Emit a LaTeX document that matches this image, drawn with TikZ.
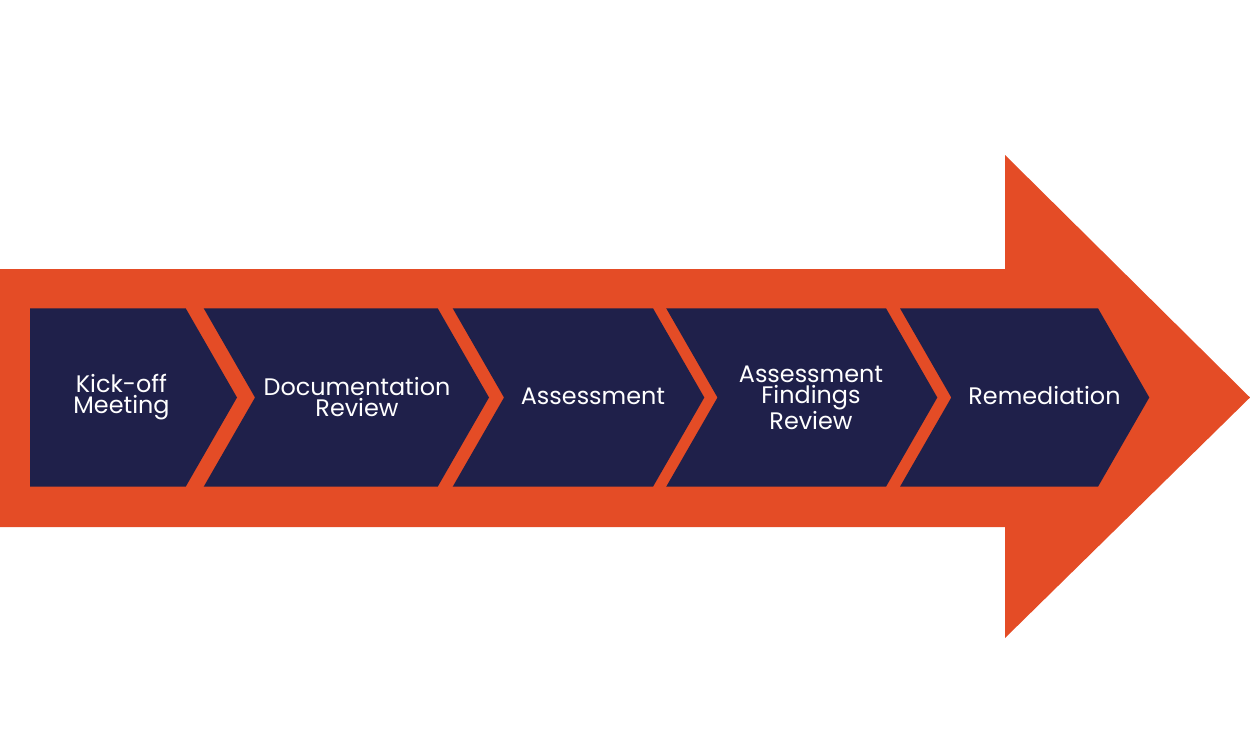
\documentclass[tikz,border=0pt]{standalone}
\usepackage{fontspec}
\setmainfont{Poppins}
\usepackage{xcolor}
\usetikzlibrary{calc}

\definecolor{arroworange}{HTML}{E44C26}
\definecolor{stepnavy}{HTML}{1F204A}

\tikzset{
  steplabel/.style={text=white, align=center, inner sep=0pt,
    font=\fontsize{13.6}{12}\selectfont},
}

\begin{document}
\begin{tikzpicture}[x=0.02cm,y=-0.02cm]

      \useasboundingbox (0,0) rectangle (1250,750);

      % Big arrow
      \fill[arroworange] (0,269) -- (1005,269) -- (1005,155) -- (1250,397.5)
        -- (1005,638) -- (1005,527) -- (0,527) -- cycle;

      % First step (flat left side)
      \fill[stepnavy] (30,308.3) -- (185.7,308.3) -- (237,397.5)
        -- (185.7,486.7) -- (30,486.7) -- cycle;

      % Other steps
      \foreach \l/\r in {203.7/437.7, 452.7/653, 666.2/886, 900/1098}
      {
        \fill[stepnavy] (\l,308.3) -- (\r,308.3) -- (\r+51.3,397.5)
          -- (\r,486.7) -- (\l,486.7) -- (\l+51.3,397.5) -- cycle;
      }

      % Labels
      \node[steplabel] (kickoff) at (121.5,397) {Kick-off\\Meeting};
      \node[steplabel] (docreview) at (357,397) {Documentation\\Review};
      \node[steplabel] (assess) at (593,396) {Assessment};
      \node[steplabel] (findings) at (811,398) {Assessment\\Findings\\Review};
      \node[steplabel] (remed) at (1044.5,396) {Remediation};

\end{tikzpicture}
\end{document}
